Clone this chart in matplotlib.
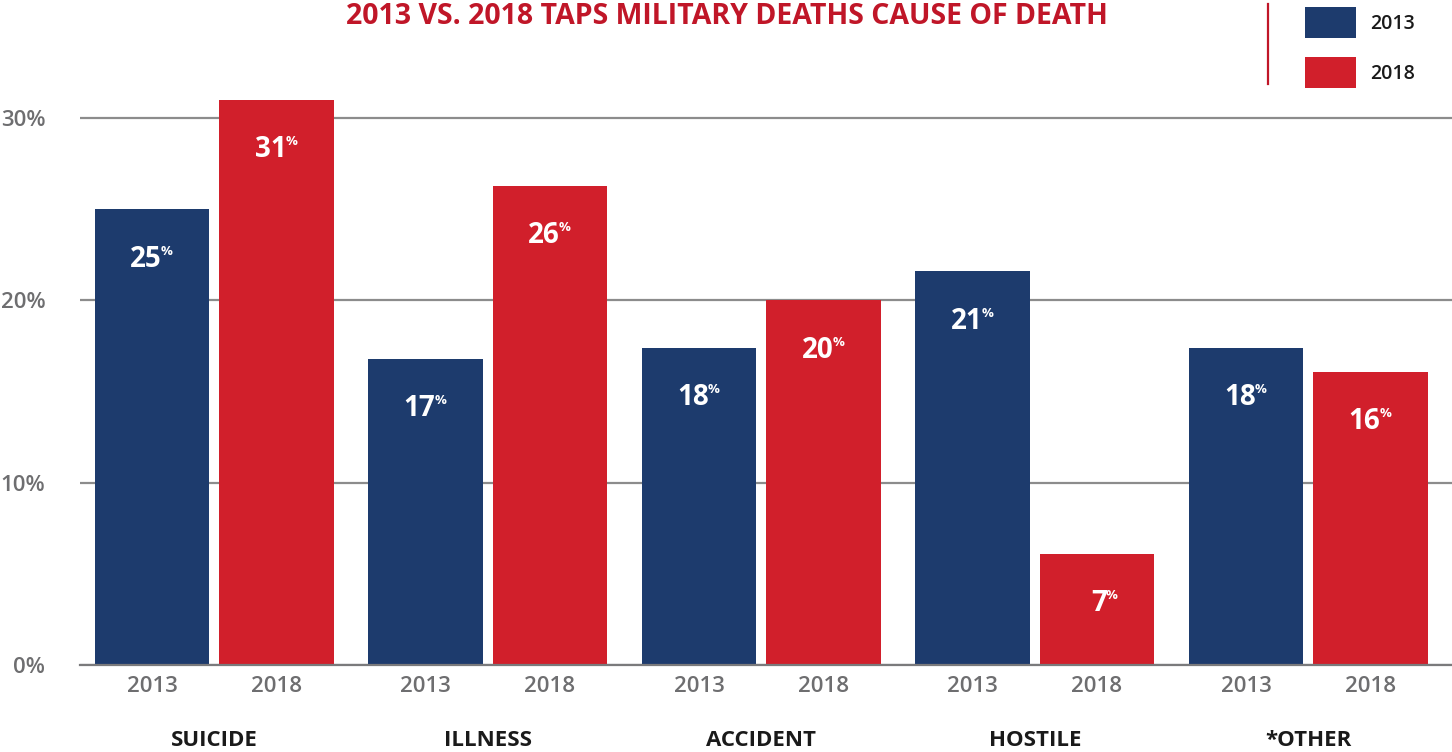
import matplotlib
matplotlib.use("Agg")
import matplotlib.pyplot as plt
from matplotlib.patches import Patch
from matplotlib.lines import Line2D
import numpy as np

categories = ["SUICIDE", "ILLNESS", "ACCIDENT", "HOSTILE", "*OTHER"]
years = ["2013", "2018"]
values_2013 = [25.0, 16.8, 17.4, 21.6, 17.4]
values_2018 = [31.0, 26.3, 20.0, 6.1, 16.1]
labels_2013 = ["25", "17", "18", "21", "18"]
labels_2018 = ["31", "26", "20", "7", "16"]
ytick_vals = [0, 10, 20, 30]
ytick_labels = ["0%", "10%", "20%", "30%"]

NAVY = "#1d3b6d"
RED = "#d11f2b"
TITLE_RED = "#c01628"
GRID = "#8c8c8c"
TICK_GRAY = "#6e6e70"
FONT = "Open Sans"

plt.rcParams["font.family"] = [FONT, "DejaVu Sans"]

fig = plt.figure(figsize=(14.52, 7.52), dpi=100)
ax = fig.add_axes([80 / 1452, 87 / 752, 1372 / 1452, 570 / 752])

x = np.arange(len(categories))
off = 0.2276
w = 0.417
b1 = ax.bar(x - off, values_2013, w, color=NAVY, zorder=2)
b2 = ax.bar(x + off, values_2018, w, color=RED, zorder=2)

ax.set_xlim(-0.4909, 4.5256)
ax.set_ylim(0, 31.27)

ax.set_yticks(ytick_vals)
ax.set_yticklabels(ytick_labels, fontsize=16, color=TICK_GRAY, fontweight="semibold")
ax.yaxis.grid(True, color=GRID, linewidth=1.6, zorder=0)
ax.set_axisbelow(True)
ax.tick_params(axis="y", length=0, pad=25)

xt = np.concatenate([x - off, x + off])
xl = [years[0]] * len(x) + [years[1]] * len(x)
ax.set_xticks(xt)
ax.set_xticklabels(xl, fontsize=16, color=TICK_GRAY, fontweight="semibold")
ax.tick_params(axis="x", length=0, pad=8)

for s in ["top", "right", "left"]:
    ax.spines[s].set_visible(False)
ax.spines["bottom"].set_color("#7a7a7c")
ax.spines["bottom"].set_linewidth(1.6)
ax.spines["bottom"].set_zorder(3)

for xi, cat in zip(x, categories):
    ax.text(xi, -0.1316, cat, transform=ax.get_xaxis_transform(), ha="center",
            va="center", fontsize=16, fontweight="bold", color="#1a1a1a")

def add_labels(bars, labels):
    for rect, lab in zip(bars, labels):
        cx = rect.get_x() + rect.get_width() / 2
        top = rect.get_height()
        ax.annotate(lab, xy=(cx, top), xytext=(10, -50), textcoords="offset pixels",
                    ha="right", va="center", color="white", fontsize=20,
                    fontweight="bold", zorder=4)
        ax.annotate("%", xy=(cx, top), xytext=(9, -42), textcoords="offset pixels",
                    ha="left", va="center", color="white", fontsize=9.5,
                    fontweight="bold", zorder=4)

add_labels(b1, labels_2013)
add_labels(b2, labels_2018)

fig.text(727 / 1452, 1 - 17 / 752, "2013 VS. 2018 TAPS MILITARY DEATHS CAUSE OF DEATH",
         ha="center", va="center", fontsize=20.5, fontweight="bold", color=TITLE_RED)

fig.add_artist(Line2D([1268 / 1452, 1268 / 1452], [1 - 4 / 752, 1 - 84 / 752],
                      transform=fig.transFigure, color=TITLE_RED, linewidth=1.6))

handles = [Patch(facecolor=NAVY), Patch(facecolor=RED)]
leg = fig.legend(handles, years, loc="upper left", bbox_to_anchor=(1300 / 1452, 1 - 2 / 752),
                 frameon=False, fontsize=14, handlelength=2.62, handleheight=2.08,
                 labelspacing=1.0, handletextpad=0.75, borderpad=0.25, borderaxespad=0)
for t in leg.get_texts():
    t.set_fontweight("semibold")
    t.set_color("#1a1a1a")

fig.savefig("out.png", dpi=100)
